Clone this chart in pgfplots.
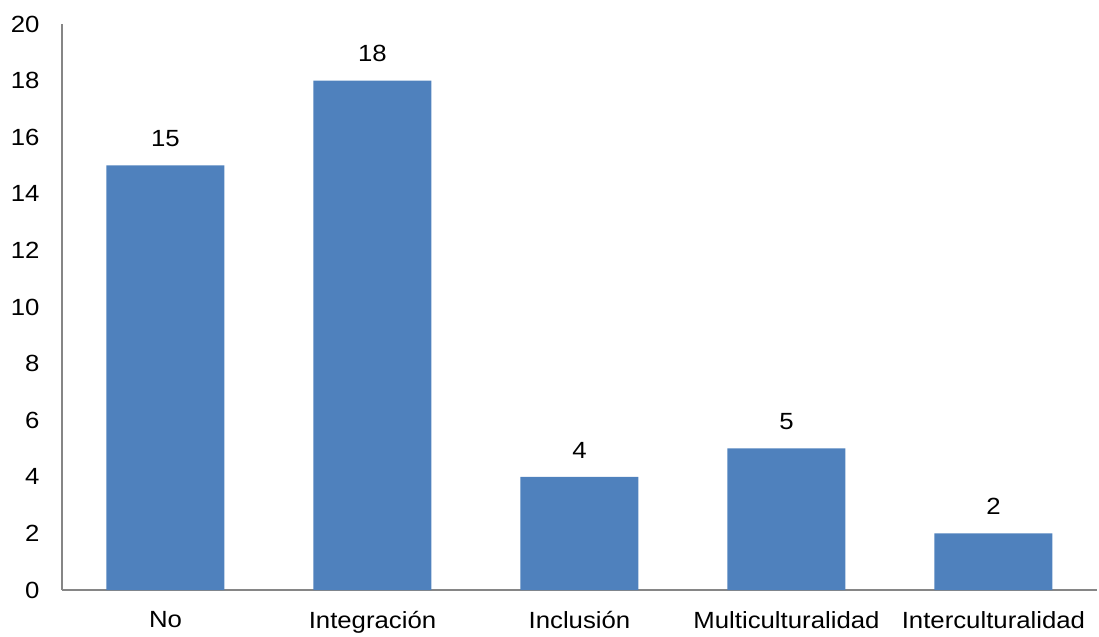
\documentclass[border=0pt]{standalone}
\usepackage{fontspec}
\setmainfont{Liberation Sans}[FakeStretch=1.1]
\usepackage{pgfplots}
\pgfplotsset{compat=1.18}
\definecolor{barblue}{HTML}{4F81BD}
\definecolor{axgray}{HTML}{868686}
\begin{document}
\begin{tikzpicture}
\begin{axis}[
  at={(0,0)}, anchor=south west,
  scale only axis, width=1035bp, height=566bp,
  xmin=-0.5, xmax=4.5, ymin=0, ymax=20,
  axis x line*=bottom, axis y line*=left,
  axis line style={axgray, line width=1.5bp},
  xtick=data,
  xticklabels={No,Integración,Inclusión,Multiculturalidad,Interculturalidad},
  ytick={0,2,...,20},
  major tick length=0pt,
  /pgf/number format/assume math mode=true,
  tick label style={font=\fontsize{23.5}{27}\selectfont, text=black},
  yticklabel style={xshift=-19bp},
  xticklabel style={yshift=-18bp},
  nodes near coords,
  every node near coord/.append style={font=\fontsize{23.5}{27}\selectfont, text=black, yshift=15bp},
  clip=false,
]
\addplot[ybar, bar width=118bp, fill=barblue, draw=none] coordinates {(0,15) (1,18) (2,4) (3,5) (4,2)};
\end{axis}
\path[use as bounding box] (-62bp,-47bp) rectangle (1037bp,590bp);
\end{tikzpicture}
\end{document}
